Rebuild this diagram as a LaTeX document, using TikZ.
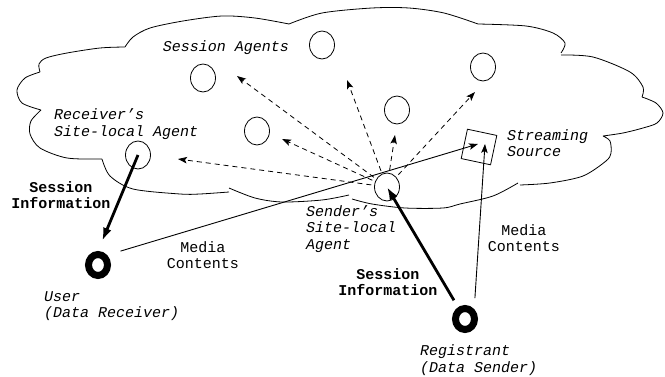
\documentclass[tikz,border=0pt]{standalone}
\usepackage{fontspec}
\setmonofont{Liberation Mono}
\usepackage{tikz}
\usetikzlibrary{arrows.meta, shapes.geometric, calc}
\newcommand{\figfont}{\ttfamily\fontsize{15}{16.5}\selectfont}

\begin{document}
\begin{tikzpicture}[x=1pt,y=-1pt,>={Stealth[length=9pt,width=6.5pt,inset=2pt]},
			agent/.style={ellipse,draw,line width=0.8pt,minimum width=25pt,minimum height=28pt,inner sep=0pt},
			host/.style={ellipse,draw,line width=7pt,minimum width=19pt,minimum height=21pt,inner sep=0pt},
			srcbox/.style={rectangle,draw,line width=0.8pt,minimum size=30pt,inner sep=0pt,rotate=-12},
			note/.style={font=\figfont\itshape,align=left,anchor=west,inner sep=0pt},
			textlabel/.style={font=\figfont,align=center,inner sep=0pt},
			boldlabel/.style={font=\figfont\bfseries,align=center,inner sep=0pt},
			announce/.style={->,line width=0.8pt,dash pattern=on 5pt off 4pt,shorten <=3pt},
			media/.style={->,line width=0.9pt},
			info/.style={-{Latex[length=13pt,width=9pt]},line width=2.8pt}]
			
			\useasboundingbox (0,0) rectangle (665,377);
			
			% cloud
			\draw[line width=0.8pt]
			plot[smooth] coordinates {(41,110) (22,103) (17,90) (25,78) (40,72)}
			plot[smooth] coordinates {(40,72) (39,64) (46,58) (67,53) (100,48) (125,47)}
			plot[smooth] coordinates {(125,47) (133,37) (150,28) (183,21) (222,16) (255,18) (289,24)}
			plot[smooth] coordinates {(289,24) (322,13) (372,8) (409,8) (444,13) (478,24)}
			plot[smooth] coordinates {(478,24) (526,26) (553,33) (565,43) (561,53)}
			plot[smooth] coordinates {(561,55) (593,57) (630,72) (643,87) (642,97)}
			plot[smooth] coordinates {(642,97) (656,103) (663,113) (657,123) (643,128) (623,133) (603,136)}
			plot[smooth] coordinates {(603,136) (610,141) (611,153) (606,161) (583,176) (550,183) (520,185)}
			plot[smooth] coordinates {(518,183) (493,196) (460,204) (443,208) (405,208) (372,204) (352,199)}
			plot[smooth] coordinates {(349,195) (322,200) (282,202) (255,198) (229,188)}
			plot[smooth] coordinates {(229,192) (200,194) (180,194) (133,189) (110,176) (102,159)}
			plot[smooth] coordinates {(102,159) (67,158) (40,148) (30,134) (31,121) (41,110)};
			
			\node[agent] (a1) at (203,78) {};
			\node[agent] (a2) at (322,45) {};
			\node[agent] (a3) at (483,67) {};
			\node[agent] (a4) at (397,110) {};
			\node[agent] (a5) at (257,131) {};
			\node[agent] (recv) at (138,155) {};
			\node[agent] (send) at (387,187) {};
			\node[srcbox] (src) at (479,147) {};
			\node[host] (user) at (98,265) {};
			\node[host] (reg) at (465,319) {};
			
			\node[textlabel,font=\figfont\itshape] (agentsname) at (226,48) {Session Agents};
			\node[note] (recvname) at (54,124) {Receiver’s\\Site-local Agent};
			\node[note] (srcname) at (507,143) {Streaming\\Source};
			\node[note] (sendname) at (306,229) {Sender’s\\Site-local\\Agent};
			\node[note] (username) at (44,306) {User\\(Data Receiver)};
			\node[note] (regname) at (420,360) {Registrant\\(Data Sender)};
			\node[boldlabel] (recvinfo) at (61,195) {Session\\Information};
			\node[boldlabel] (sendinfo) at (388,282) {Session\\Information};
			\node[textlabel] (usermedia) at (203,255) {Media\\Contents};
			\node[textlabel] (regmedia) at (524,238) {Media\\Contents};
			
			\coordinate (t1) at ($(a1)+(34,-2)$);
			\coordinate (t2) at ($(a2)+(25,35)$);
			\coordinate (t3) at ($(a3)+(-8,25)$);
			\coordinate (t4) at ($(a4)+(-2,25)$);
			\coordinate (t5) at ($(a5)+(25,8)$);
			\coordinate (t6) at ($(recv)+(40,4)$);
			\coordinate (srcin1) at ($(src)+(-1,-3)$);
			\coordinate (srcin2) at ($(src)+(6,-3)$);
			
			\draw[announce] (send) -- (t1);
			\draw[announce] (send) -- (t2);
			\draw[announce] (send) -- (t3);
			\draw[announce] (send) -- (t4);
			\draw[announce] (send) -- (t5);
			\draw[announce] (send) -- (t6);
			
			\draw[media,shorten <=14pt] (user.north east) -- (srcin1);
			\draw[media,shorten <=11pt] (reg.north east) -- (srcin2);
			
			\draw[info,shorten >=11pt] (recv.center) -- (user.north);
			\draw[info,shorten <=8pt] (reg) -- (send.center);
		\end{tikzpicture}
\end{document}
